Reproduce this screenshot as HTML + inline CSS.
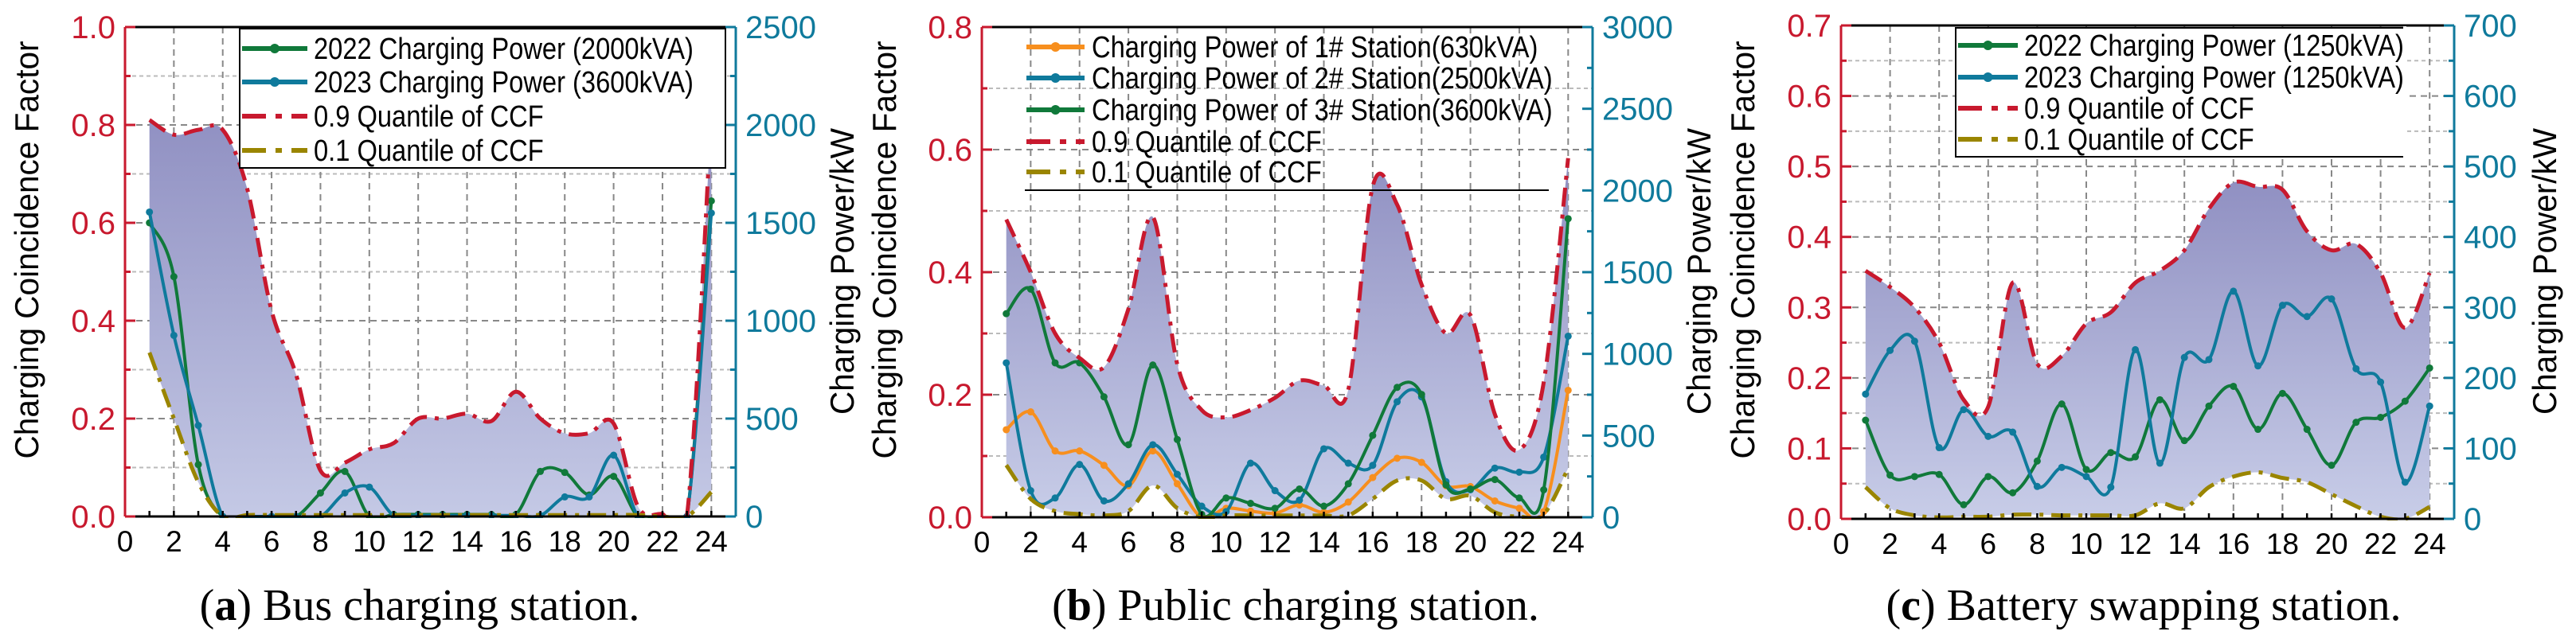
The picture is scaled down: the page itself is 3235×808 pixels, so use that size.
<!DOCTYPE html>
<html><head><meta charset="utf-8"><style>
html,body{margin:0;padding:0;background:#fff;}
svg{display:block;}
text{font-family:"Liberation Sans",sans-serif;}
</style></head>
<body>
<svg id="fig" width="3235" height="808" viewBox="0 0 3235 808" xmlns="http://www.w3.org/2000/svg">
<defs>
<linearGradient id="gradA" x1="0" y1="0" x2="0" y2="1"><stop offset="0" stop-color="#9090c2"/><stop offset="1" stop-color="#c8cde8"/></linearGradient>
</defs>
</svg>
<script>
const hours = [1,2,3,4,5,6,7,8,9,10,11,12,13,14,15,16,17,18,19,20,21,22,23,24];
// Panel (a) Bus charging station
const aQ90 = [0.81,0.78,0.79,0.79,0.67,0.42,0.29,0.094,0.11,0.137,0.15,0.2,0.2,0.21,0.195,0.255,0.2,0.17,0.17,0.19,0.02,0.005,0.0,0.82];
const aQ10 = [0.335,0.2,0.07,0.0,0.003,0.003,0.003,0.003,0.003,0.003,0.003,0.003,0.003,0.003,0.003,0.003,0.003,0.003,0.003,0.003,0.003,0.0,0.0,0.05];
const aP2022 = [1500,1225,265,0,0,0,0,120,230,0,10,10,10,10,10,10,230,225,110,205,0,0,0,1612];
const aP2023 = [1555,925,465,0,0,0,0,0,120,150,5,5,5,5,5,5,5,100,100,313,0,0,0,1550];
// Panel (b) Public charging station
const bQ90 = [0.486,0.40,0.30,0.26,0.245,0.34,0.49,0.25,0.175,0.163,0.175,0.195,0.223,0.215,0.208,0.54,0.51,0.38,0.30,0.33,0.168,0.11,0.22,0.586];
const bQ10 = [0.085,0.03,0.01,0.005,0.003,0.01,0.052,0.015,0.0,0.003,0.003,0.003,0.003,0.003,0.003,0.03,0.06,0.06,0.03,0.035,0.008,0.001,0.005,0.08];
const bP1 = [536,645,406,406,318,193,406,205,0,55,38,25,75,30,93,243,361,336,193,188,100,55,35,777];
const bP2 = [945,163,118,323,100,205,444,263,68,35,331,163,105,419,331,318,707,737,218,168,301,276,368,1108];
const bP3 = [1246,1396,945,945,737,444,932,476,18,118,85,55,173,68,205,501,795,752,198,173,231,118,168,1827];
// Panel (c) Battery swapping station
const cQ90 = [0.352,0.329,0.30,0.25,0.169,0.159,0.335,0.22,0.231,0.277,0.293,0.335,0.352,0.381,0.44,0.477,0.471,0.467,0.408,0.381,0.39,0.349,0.271,0.349];
const cQ10 = [0.045,0.015,0.005,0.002,0.003,0.003,0.006,0.006,0.005,0.005,0.005,0.005,0.022,0.015,0.045,0.06,0.066,0.058,0.052,0.035,0.018,0.003,0.0,0.017];
const cP2022 = [140,62,60,63,20,60,37,82,163,70,94,88,169,111,160,188,127,178,127,76,137,144,167,214];
const cP2023 = [177,239,252,101,155,117,123,46,73,60,45,240,79,229,226,323,217,303,287,312,213,194,52,160];
// Tick labels
const xTickLabels = ["0","2","4","6","8","10","12","14","16","18","20","22","24"];
const aLeftTicks = ["0.0","0.2","0.4","0.6","0.8","1.0"];
const aRightTicks = ["0","500","1000","1500","2000","2500"];
const bLeftTicks = ["0.0","0.2","0.4","0.6","0.8"];
const bRightTicks = ["0","500","1000","1500","2000","2500","3000"];
const cLeftTicks = ["0.0","0.1","0.2","0.3","0.4","0.5","0.6","0.7"];
const cRightTicks = ["0","100","200","300","400","500","600","700"];

const NS = "http://www.w3.org/2000/svg";
const svg = document.getElementById('fig');
const RED = "#c8192e", TEAL = "#0f7a9c", GREEN = "#10793a", BLUE = "#0f7a9c", OLIVE = "#9a8500", ORANGE = "#f78f1e";

function mk(tag, attrs, parent) {
  const e = document.createElementNS(NS, tag);
  for (const k in attrs) e.setAttribute(k, attrs[k]);
  (parent || svg).appendChild(e);
  return e;
}
function spline(pts) {
  let d = "M" + pts[0][0].toFixed(1) + "," + pts[0][1].toFixed(1);
  for (let i = 0; i < pts.length - 1; i++) {
    const p0 = pts[Math.max(0, i - 1)], p1 = pts[i], p2 = pts[i + 1], p3 = pts[Math.min(pts.length - 1, i + 2)];
    const c1x = p1[0] + (p2[0] - p0[0]) / 6, c1y = p1[1] + (p2[1] - p0[1]) / 6;
    const c2x = p2[0] - (p3[0] - p1[0]) / 6, c2y = p2[1] - (p3[1] - p1[1]) / 6;
    d += " C" + c1x.toFixed(1) + "," + c1y.toFixed(1) + " " + c2x.toFixed(1) + "," + c2y.toFixed(1) + " " + p2[0].toFixed(1) + "," + p2[1].toFixed(1);
  }
  return d;
}
function splineBack(pts) {
  const r = pts.slice().reverse();
  return spline(r).replace(/^M/, "L");
}

function panel(cfg) {
  const g = mk('g', {});
  
  
  const {x0, x1, y0, y1} = cfg;
  const xs = v => x0 + v / 25 * (x1 - x0);
  const yl = v => y1 - v / cfg.lMax * (y1 - y0);
  const yr = v => y1 - v / cfg.rMax * (y1 - y0);
  const clipId = cfg.name + "-clip";
  const cp = mk('clipPath', {id: clipId}, g);
  mk('rect', {x: x0, y: y0 - 2, width: x1 - x0, height: y1 - y0 + 4}, cp);

  // grid
  const grid = mk('g', {}, g);
  
  
  for (let v = cfg.lMinor; v < cfg.lMax - 1e-9; v += cfg.lMinor) {
    const isMajor = Math.abs(v / cfg.lStep - Math.round(v / cfg.lStep)) < 1e-6;
    const l = mk('line', {x1: x0, x2: x1, y1: yl(v), y2: yl(v), stroke: isMajor ? "#888" : "#bbb", 'stroke-width': 2, 'stroke-dasharray': isMajor ? "8,6" : "5,4"}, grid);
    
    
  }
  for (let h = 2; h <= 24; h += 2) {
    const l = mk('line', {x1: xs(h), x2: xs(h), y1: y0, y2: y1, stroke: "#888", 'stroke-width': 2, 'stroke-dasharray': "8,6"}, grid);
    
    
  }

  // fill band
  const top = hours.map((h, i) => [xs(h), yl(cfg.q90[i])]);
  const bot = hours.map((h, i) => [xs(h), yl(cfg.q10[i])]);
  const band = mk('path', {d: spline(top) + " " + splineBack(bot) + " Z", fill: "url(#gradA)", 'clip-path': "url(#" + clipId + ")"}, g);
  
  

  // power series
  cfg.series.forEach(s => {
    const pts = hours.map((h, i) => [xs(h), yr(s.vals[i])]);
    const sg = mk('g', {'clip-path': "url(#" + clipId + ")"}, g);
    
    
    mk('path', {d: spline(pts), fill: "none", stroke: s.color, 'stroke-width': 4}, sg);
    pts.forEach(p => {
      const m = mk('circle', {cx: p[0], cy: p[1], r: 4.5, fill: s.color}, sg);
      
      
    });
  });
  // quantile lines
  const q1 = mk('path', {d: spline(top), fill: "none", stroke: RED, 'stroke-width': 5, 'stroke-dasharray': "24,10,5,10", 'clip-path': "url(#" + clipId + ")"}, g);
  
  
  const q2 = mk('path', {d: spline(bot), fill: "none", stroke: OLIVE, 'stroke-width': 5, 'stroke-dasharray': "24,10,5,10", 'clip-path': "url(#" + clipId + ")"}, g);
  
  

  // axes
  const topLine = mk('line', {x1: x0, x2: x1, y1: y0, y2: y0, stroke: "#000", 'stroke-width': 3}, g);
  
  
  const xa = mk('g', {}, g);
  
  
  mk('line', {x1: x0, x2: x1, y1: y1, y2: y1, stroke: "#000", 'stroke-width': 3}, xa);
  for (let h = 1; h <= 24; h++) mk('line', {x1: xs(h), x2: xs(h), y1: y1, y2: y1 - 7, stroke: "#000", 'stroke-width': 2.5}, xa);
  xTickLabels.forEach((t, i) => {
    const tx = mk('text', {x: xs(i * 2), y: y1 + 44, 'font-size': 37, 'text-anchor': 'middle', fill: "#000"}, xa);
    tx.textContent = t;
    
    
  });
  const la = mk('g', {}, g);
  
  
  mk('line', {x1: x0, x2: x0, y1: y0, y2: y1, stroke: RED, 'stroke-width': 3}, la);
  for (let v = 0; v <= cfg.lMax + 1e-9; v += cfg.lMinor) {
    const isMajor = Math.abs(v / cfg.lStep - Math.round(v / cfg.lStep)) < 1e-6;
    mk('line', {x1: x0, x2: x0 + (isMajor ? 13 : 7), y1: yl(v), y2: yl(v), stroke: RED, 'stroke-width': 3}, la);
  }
  cfg.lTicks.forEach((t, i) => {
    const tx = mk('text', {x: x0 - 12, y: yl(i * cfg.lStep) + 14, 'font-size': 40, 'text-anchor': 'end', fill: RED}, la);
    tx.textContent = t;
    
    
  });
  const ra = mk('g', {}, g);
  
  
  mk('line', {x1: x1, x2: x1, y1: y0, y2: y1, stroke: TEAL, 'stroke-width': 3}, ra);
  for (let v = 0; v <= cfg.rMax + 1e-9; v += cfg.rStep / 2) {
    const isMajor = Math.abs(v / cfg.rStep - Math.round(v / cfg.rStep)) < 1e-6;
    mk('line', {x1: x1, x2: x1 - (isMajor ? 13 : 7), y1: yr(v), y2: yr(v), stroke: TEAL, 'stroke-width': 3}, ra);
  }
  cfg.rTicks.forEach((t, i) => {
    const tx = mk('text', {x: x1 + 12, y: yr(i * cfg.rStep) + 14, 'font-size': 40, 'text-anchor': 'start', fill: TEAL}, ra);
    tx.textContent = t;
    
    
  });
  // axis titles
  const lt = mk('text', {x: 0, y: 0, 'font-size': 42, 'text-anchor': 'middle', fill: "#000", textLength: 525, lengthAdjust: "spacingAndGlyphs", transform: "translate(" + cfg.ltx + ",314) rotate(-90)"}, g);
  lt.textContent = "Charging Coincidence Factor";
  
  
  const rt = mk('text', {x: 0, y: 0, 'font-size': 42, 'text-anchor': 'middle', fill: "#000", textLength: 360, lengthAdjust: "spacingAndGlyphs", transform: "translate(" + cfg.rtx + ",341) rotate(-90)"}, g);
  rt.textContent = "Charging Power/kW";
  
  

  // legend
  const lg = mk('g', {}, g);
  
  
  const L = cfg.legend;
  if (L.box) mk('rect', {x: L.bx, y: L.by, width: L.bw, height: L.bh, fill: "#fff", stroke: "#000", 'stroke-width': 2}, lg);
  if (L.rule) mk('line', {x1: L.rule[0], x2: L.rule[1], y1: L.rule[2], y2: L.rule[2], stroke: "#000", 'stroke-width': 2}, lg);
  if (L.noRight) mk('line', {x1: L.bx + L.bw, x2: L.bx + L.bw, y1: L.by - 2, y2: L.by + L.bh + 2, stroke: "#fff", 'stroke-width': 4}, lg);
  L.items.forEach((it, i) => {
    const y = L.rows[i];
    const eg = mk('g', {}, lg);
    
    
    mk('line', {x1: L.lx0, x2: L.lx1, y1: y, y2: y, stroke: it.color, 'stroke-width': it.dash ? 6 : 6, 'stroke-dasharray': it.dash ? "30,12,8,12" : "none"}, eg);
    if (!it.dash) mk('circle', {cx: (L.lx0 + L.lx1) / 2, cy: y, r: 6, fill: it.color}, eg);
    const tx = mk('text', {x: 0, y: 0, 'font-size': 38, fill: "#000", transform: "translate(" + L.tx + "," + (y + 13) + ") scale(0.86,1)"}, eg);
    tx.textContent = it.label;
  });

  // caption
  const cap = mk('text', {x: cfg.capx, y: 779, 'font-size': 56, 'text-anchor': 'middle', fill: "#000", style: "font-family:'Liberation Serif',serif"}, g);
  
  
  const t1 = mk('tspan', {}, cap); t1.textContent = "(";
  const t2 = mk('tspan', {'font-weight': 'bold'}, cap); t2.textContent = cfg.capLetter;
  const t3 = mk('tspan', {}, cap); t3.textContent = ") " + cfg.capText;
}

panel({name: 'panel-a-bus', x0: 157, x1: 924, y0: 34, y1: 649, lMax: 1.0, lStep: 0.2, lMinor: 0.1, rMax: 2500, rStep: 500,
  lTicks: aLeftTicks, rTicks: aRightTicks, q90: aQ90, q10: aQ10, ltx: 48, rtx: 1072,
  series: [{name: 'series-2022-power', vals: aP2022, color: GREEN}, {name: 'series-2023-power', vals: aP2023, color: BLUE}],
  legend: {box: true, bx: 301, by: 36, bw: 610, bh: 175, rows: [61, 103, 146, 189], lx0: 304, lx1: 386, tx: 394,
    items: [{label: "2022 Charging Power (2000kVA)", color: GREEN}, {label: "2023 Charging Power (3600kVA)", color: BLUE},
      {label: "0.9 Quantile of CCF", color: RED, dash: true}, {label: "0.1 Quantile of CCF", color: OLIVE, dash: true}]},
  capx: 527, capLetter: "a", capText: "Bus charging station."});

panel({name: 'panel-b-public', x0: 1233, x1: 2000, y0: 34, y1: 650, lMax: 0.8, lStep: 0.2, lMinor: 0.1, rMax: 3000, rStep: 500,
  lTicks: bLeftTicks, rTicks: bRightTicks, q90: bQ90, q10: bQ10, ltx: 1125, rtx: 2148,
  series: [{name: 'series-station-1', vals: bP1, color: ORANGE}, {name: 'series-station-2', vals: bP2, color: BLUE}, {name: 'series-station-3', vals: bP3, color: GREEN}],
  legend: {box: false, rule: [1287, 1945, 239], rows: [59, 98, 138, 178, 216], lx0: 1289, lx1: 1362, tx: 1371,
    items: [{label: "Charging Power of 1# Station(630kVA)", color: ORANGE}, {label: "Charging Power of 2# Station(2500kVA)", color: BLUE},
      {label: "Charging Power of 3# Station(3600kVA)", color: GREEN}, {label: "0.9 Quantile of CCF", color: RED, dash: true}, {label: "0.1 Quantile of CCF", color: OLIVE, dash: true}]},
  capx: 1627, capLetter: "b", capText: "Public charging station."});

panel({name: 'panel-c-swapping', x0: 2312, x1: 3082, y0: 32, y1: 652, lMax: 0.7, lStep: 0.1, lMinor: 0.05, rMax: 700, rStep: 100,
  lTicks: cLeftTicks, rTicks: cRightTicks, q90: cQ90, q10: cQ10, ltx: 2203, rtx: 3210,
  series: [{name: 'series-2022-power', vals: cP2022, color: GREEN}, {name: 'series-2023-power', vals: cP2023, color: BLUE}],
  legend: {box: true, noRight: true, bx: 2456, by: 35, bw: 564, bh: 162, rows: [57, 97, 136, 175], lx0: 2459, lx1: 2534, tx: 2542,
    items: [{label: "2022 Charging Power (1250kVA)", color: GREEN}, {label: "2023 Charging Power (1250kVA)", color: BLUE},
      {label: "0.9 Quantile of CCF", color: RED, dash: true}, {label: "0.1 Quantile of CCF", color: OLIVE, dash: true}]},
  capx: 2692, capLetter: "c", capText: "Battery swapping station."});
</script>
</body></html>
